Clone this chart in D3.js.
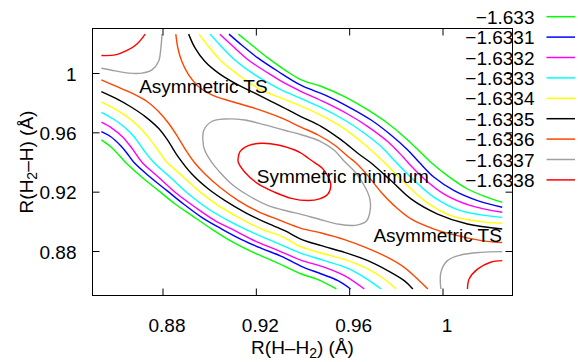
<!DOCTYPE html>
<html>
<head>
<meta charset="utf-8">
<script src="https://cdn.jsdelivr.net/npm/d3@7"></script>
<style>
  body { margin: 0; background: #fff; }
  svg { display: block; font-family: "Liberation Sans", Arial, sans-serif; }
</style>
</head>
<body>
<svg id="chart" width="578" height="362"></svg>
<script>
// contour levels shown in the key
const levels = ['\u22121.633', '\u22121.6331', '\u22121.6332', '\u22121.6333', '\u22121.6334',
  '\u22121.6335', '\u22121.6336', '\u22121.6337', '\u22121.6338'];

const xTicks = [0.88, 0.92, 0.96, 1.0];
const xTickLabels = ['0.88', '0.92', '0.96', '1'];
const yTicks = [0.88, 0.92, 0.96, 1.0];
const yTickLabels = ['0.88', '0.92', '0.96', '1'];

const notes = ['Asymmetric TS', 'Symmetric minimum', 'Asymmetric TS'];

// contour lines, points are [R(H-H2), R(H2-H)] in angstrom
// -1.633
const c16330_ur = [[0.9125,1.0262],[0.9182,1.0189],[0.9253,1.0100],[0.9324,1.0021],[0.9395,0.9953],[0.9481,0.9909],[0.9580,0.9841],[0.9680,0.9751],[0.9765,0.9661],[0.9851,0.9549],[0.9950,0.9398],[1.0021,0.9308],[1.0107,0.9218],[1.0192,0.9162],[1.0256,0.9128]];
const c16330_ll = [[0.8538,0.9549],[0.8577,0.9504],[0.8613,0.9447],[0.8641,0.9398],[0.8712,0.9297],[0.8783,0.9207],[0.8854,0.9117],[0.8926,0.9039],[0.9011,0.8948],[0.9096,0.8865],[0.9182,0.8796],[0.9281,0.8728],[0.9395,0.8645],[0.9467,0.8607],[0.9545,0.8544]];
// -1.6331
const c16331_ur = [[0.9085,1.0262],[0.9139,1.0189],[0.9210,1.0100],[0.9296,1.0010],[0.9395,0.9916],[0.9495,0.9852],[0.9595,0.9774],[0.9694,0.9683],[0.9779,0.9582],[0.9851,0.9481],[0.9900,0.9398],[0.9964,0.9297],[1.0050,0.9207],[1.0150,0.9140],[1.0256,0.9095]];
const c16331_ll = [[0.8538,0.9605],[0.8577,0.9572],[0.8620,0.9511],[0.8648,0.9459],[0.8677,0.9398],[0.8748,0.9297],[0.8819,0.9207],[0.8890,0.9117],[0.8968,0.9027],[0.9054,0.8948],[0.9139,0.8877],[0.9224,0.8818],[0.9310,0.8764],[0.9395,0.8697],[0.9481,0.8645],[0.9552,0.8600],[0.9606,0.8544]];
// -1.6332
const c16332_ur = [[0.9046,1.0262],[0.9096,1.0189],[0.9168,1.0088],[0.9253,0.9999],[0.9324,0.9931],[0.9395,0.9875],[0.9495,0.9803],[0.9595,0.9722],[0.9680,0.9639],[0.9765,0.9538],[0.9829,0.9437],[0.9851,0.9398],[0.9922,0.9286],[1.0007,0.9184],[1.0121,0.9106],[1.0256,0.9061]];
const c16332_ll = [[0.8538,0.9668],[0.8584,0.9627],[0.8627,0.9572],[0.8669,0.9493],[0.8712,0.9398],[0.8783,0.9297],[0.8854,0.9196],[0.8940,0.9095],[0.9025,0.9005],[0.9110,0.8937],[0.9210,0.8858],[0.9296,0.8803],[0.9395,0.8737],[0.9495,0.8690],[0.9580,0.8634],[0.9665,0.8544]];
// -1.6333
const c16333_ur = [[0.9004,1.0262],[0.9046,1.0189],[0.9110,1.0088],[0.9196,0.9987],[0.9296,0.9897],[0.9395,0.9827],[0.9481,0.9767],[0.9580,0.9683],[0.9665,0.9594],[0.9737,0.9504],[0.9801,0.9398],[0.9879,0.9275],[0.9964,0.9162],[1.0078,0.9072],[1.0256,0.9027]];
const c16333_ll = [[0.8538,0.9735],[0.8584,0.9695],[0.8634,0.9639],[0.8677,0.9572],[0.8719,0.9481],[0.8762,0.9398],[0.8833,0.9297],[0.8912,0.9184],[0.8997,0.9083],[0.9082,0.9005],[0.9168,0.8937],[0.9267,0.8870],[0.9395,0.8784],[0.9495,0.8735],[0.9595,0.8683],[0.9665,0.8622],[0.9737,0.8544]];
// -1.6334
const c16334_ur = [[0.8957,1.0262],[0.8997,1.0179],[0.9054,1.0077],[0.9125,0.9987],[0.9210,0.9897],[0.9310,0.9830],[0.9395,0.9776],[0.9481,0.9713],[0.9566,0.9639],[0.9651,0.9538],[0.9750,0.9398],[0.9836,0.9263],[0.9922,0.9140],[1.0036,0.9039],[1.0164,0.8998],[1.0256,0.8987]];
const c16334_ll = [[0.8538,0.9803],[0.8591,0.9762],[0.8648,0.9706],[0.8698,0.9639],[0.8748,0.9549],[0.8790,0.9459],[0.8819,0.9398],[0.8883,0.9308],[0.8954,0.9207],[0.9040,0.9106],[0.9125,0.9027],[0.9224,0.8948],[0.9310,0.8899],[0.9395,0.8828],[0.9495,0.8780],[0.9595,0.8735],[0.9680,0.8679],[0.9750,0.8611],[0.9801,0.8544]];
// -1.6335
const c16335_ur = [[0.8912,1.0262],[0.8940,1.0167],[0.8982,1.0077],[0.9040,0.9999],[0.9110,0.9931],[0.9196,0.9864],[0.9296,0.9785],[0.9395,0.9705],[0.9481,0.9639],[0.9566,0.9549],[0.9637,0.9459],[0.9690,0.9398],[0.9779,0.9275],[0.9865,0.9151],[0.9979,0.9049],[1.0107,0.8982],[1.0256,0.8948]];
const c16335_ll = [[0.8538,0.9875],[0.8598,0.9830],[0.8662,0.9774],[0.8726,0.9706],[0.8783,0.9627],[0.8826,0.9538],[0.8862,0.9447],[0.8926,0.9319],[0.8997,0.9218],[0.9068,0.9140],[0.9153,0.9061],[0.9239,0.8994],[0.9324,0.8937],[0.9395,0.8879],[0.9481,0.8836],[0.9580,0.8791],[0.9680,0.8735],[0.9765,0.8668],[0.9836,0.8600],[0.9873,0.8544]];
// -1.6336
const c16336_ur = [[0.8857,1.0262],[0.8866,1.0167],[0.8883,1.0077],[0.8912,0.9987],[0.8954,0.9909],[0.9011,0.9852],[0.9096,0.9808],[0.9196,0.9762],[0.9296,0.9706],[0.9395,0.9634],[0.9467,0.9582],[0.9537,0.9515],[0.9595,0.9437],[0.9626,0.9398],[0.9680,0.9308],[0.9737,0.9196],[0.9793,0.9106],[0.9865,0.9016],[0.9964,0.8948],[1.0078,0.8899],[1.0192,0.8865],[1.0256,0.8857]];
const c16336_ll = [[0.8538,0.9953],[0.8598,0.9913],[0.8669,0.9864],[0.8734,0.9808],[0.8783,0.9740],[0.8826,0.9661],[0.8869,0.9560],[0.8904,0.9470],[0.8936,0.9398],[0.8982,0.9319],[0.9046,0.9230],[0.9125,0.9140],[0.9210,0.9066],[0.9296,0.9012],[0.9395,0.8953],[0.9481,0.8921],[0.9580,0.8877],[0.9680,0.8818],[0.9765,0.8757],[0.9836,0.8690],[0.9893,0.8611],[0.9937,0.8544]];
// -1.6337
const c16337_tl = [[0.8538,1.0032],[0.8598,1.0014],[0.8655,0.9999],[0.8712,0.9999],[0.8755,1.0021],[0.8783,1.0077],[0.8793,1.0167],[0.8798,1.0262]];
const c16337_mid = [[0.8973,0.9547],[0.8977,0.9614],[0.9011,0.9673],[0.9068,0.9690],[0.9153,0.9683],[0.9239,0.9650],[0.9323,0.9614],[0.9395,0.9584],[0.9472,0.9543],[0.9536,0.9479],[0.9579,0.9405],[0.9626,0.9331],[0.9664,0.9243],[0.9688,0.9155],[0.9690,0.9074],[0.9673,0.9000],[0.9626,0.8973],[0.9557,0.8980],[0.9472,0.9014],[0.9395,0.9047],[0.9338,0.9068],[0.9253,0.9106],[0.9168,0.9174],[0.9096,0.9252],[0.9040,0.9342],[0.9011,0.9398],[0.8981,0.9479]];
const c16337_br = [[0.9993,0.8544],[0.9993,0.8656],[1.0021,0.8735],[1.0078,0.8773],[1.0164,0.8791],[1.0256,0.8796]];
// -1.6338
const c16338_tl = [[0.8538,1.0118],[0.8598,1.0122],[0.8648,1.0152],[0.8691,1.0196],[0.8726,1.0262]];
const c16338_mid = [[0.9124,0.9425],[0.9132,0.9470],[0.9168,0.9511],[0.9224,0.9526],[0.9296,0.9515],[0.9367,0.9481],[0.9395,0.9459],[0.9425,0.9425],[0.9455,0.9392],[0.9485,0.9358],[0.9506,0.9311],[0.9521,0.9250],[0.9509,0.9184],[0.9473,0.9151],[0.9424,0.9140],[0.9352,0.9155],[0.9281,0.9196],[0.9210,0.9252],[0.9153,0.9331],[0.9125,0.9398]];
const c16338_br = [[1.0107,0.8544],[1.0114,0.8611],[1.0150,0.8678],[1.0206,0.8724],[1.0256,0.8735]];

const colors = ['#00ff00', '#0000ff', '#ff00ff', '#00ffff', '#ffff00',
  '#000000', '#ff4500', '#a0a0a0', '#ff0000'];

const contours = [
  { level: 0, pts: c16330_ur }, { level: 0, pts: c16330_ll },
  { level: 1, pts: c16331_ur }, { level: 1, pts: c16331_ll },
  { level: 2, pts: c16332_ur }, { level: 2, pts: c16332_ll },
  { level: 3, pts: c16333_ur }, { level: 3, pts: c16333_ll },
  { level: 4, pts: c16334_ur }, { level: 4, pts: c16334_ll },
  { level: 5, pts: c16335_ur }, { level: 5, pts: c16335_ll },
  { level: 6, pts: c16336_ur }, { level: 6, pts: c16336_ll },
  { level: 7, pts: c16337_tl }, { level: 7, pts: c16337_mid, closed: true }, { level: 7, pts: c16337_br },
  { level: 8, pts: c16338_tl }, { level: 8, pts: c16338_mid, closed: true }, { level: 8, pts: c16338_br },
];

const svg = d3.select('#chart');
const fontSize = 19;

const x = d3.scaleLinear().domain([0.85, 1.03]).range([92.5, 512.5]);
const y = d3.scaleLinear().domain([0.85, 1.03]).range([295.5, 28.5]);

const open = d3.line().x((d) => x(d[0])).y((d) => y(d[1])).curve(d3.curveCatmullRom);
const closed = d3.line().x((d) => x(d[0])).y((d) => y(d[1])).curve(d3.curveCatmullRomClosed);

// contour lines
svg.append('g')
  .selectAll('path')
  .data(contours)
  .enter()
  .append('path')
  .attr('d', (d) => (d.closed ? closed(d.pts) : open(d.pts)))
  .attr('fill', 'none')
  .attr('stroke', (d) => colors[d.level])
  .attr('stroke-width', 1.4);

// axes, ticks pointing inwards on all four sides
const styleAxis = (g) => {
  g.attr('font-size', null).attr('font-family', null);
  g.select('.domain').remove();
  g.selectAll('.tick line').attr('stroke', '#000');
  g.selectAll('text').attr('font-size', fontSize).attr('fill', '#000');
};

svg.append('g')
  .attr('transform', 'translate(0,295.5)')
  .call(d3.axisBottom(x).tickValues(xTicks).tickFormat((d, i) => xTickLabels[i]).tickSize(-7).tickPadding(22.8))
  .call(styleAxis)
  .selectAll('text').attr('dx', 4);

svg.append('g')
  .attr('transform', 'translate(0,28.5)')
  .call(d3.axisTop(x).tickValues(xTicks).tickFormat('').tickSize(-7))
  .call(styleAxis);

svg.append('g')
  .attr('transform', 'translate(92.5,0)')
  .call(d3.axisLeft(y).tickValues(yTicks).tickFormat((d, i) => yTickLabels[i]).tickSize(-7).tickPadding(16))
  .call(styleAxis)
  .selectAll('text').attr('dy', '0.38em');

svg.append('g')
  .attr('transform', 'translate(512.5,0)')
  .call(d3.axisRight(y).tickValues(yTicks).tickFormat('').tickSize(-7))
  .call(styleAxis);

// frame
svg.append('rect')
  .attr('x', x(0.85)).attr('y', y(1.03))
  .attr('width', x(1.03) - x(0.85)).attr('height', y(0.85) - y(1.03))
  .attr('fill', 'none').attr('stroke', '#000');

// axis titles
const xt = svg.append('text')
  .attr('x', 302.5).attr('y', 353.5)
  .attr('text-anchor', 'middle').attr('font-size', fontSize);
xt.append('tspan').text('R(H\u2013H');
xt.append('tspan').attr('font-size', 14).attr('dy', 4).text('2');
xt.append('tspan').attr('dy', -4).text(') (\u00c5)');

const yt = svg.append('text')
  .attr('transform', 'translate(33,162) rotate(-90)')
  .attr('text-anchor', 'middle').attr('font-size', fontSize);
yt.append('tspan').text('R(H');
yt.append('tspan').attr('font-size', 14).attr('dy', 4).text('2');
yt.append('tspan').attr('dy', -4).text('\u2013H) (\u00c5)');

// stationary point labels
const noteAt = [[0.8700, 0.9862], [0.9204, 0.9260], [0.9704, 0.8861]];
svg.append('g')
  .selectAll('text')
  .data(notes)
  .enter()
  .append('text')
  .attr('x', (d, i) => x(noteAt[i][0]))
  .attr('y', (d, i) => y(noteAt[i][1]))
  .attr('font-size', fontSize)
  .text((d) => d);

// key
const key = svg.append('g');
const rows = key.selectAll('g')
  .data(levels)
  .enter()
  .append('g')
  .attr('transform', (d, i) => 'translate(0,' + (16.7 + i * 20.4) + ')');
rows.append('text')
  .attr('x', 534.5).attr('y', 7)
  .attr('text-anchor', 'end').attr('font-size', fontSize)
  .text((d) => d);
rows.append('line')
  .attr('x1', 546.5).attr('x2', 575)
  .attr('stroke', (d, i) => colors[i]).attr('stroke-width', 1.5);
</script>
</body>
</html>
